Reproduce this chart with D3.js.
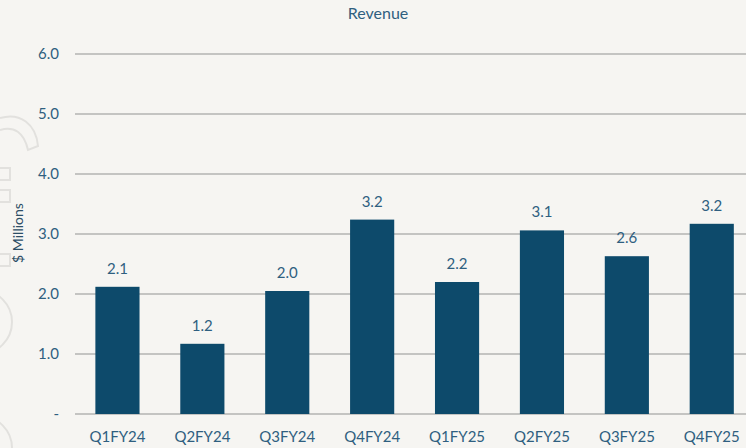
<!DOCTYPE html>
<html>
<head>
<meta charset="utf-8">
<script src="https://cdn.jsdelivr.net/npm/d3@7"></script>
<style>
  html,body{margin:0;padding:0;background:#f6f5f2;}
  svg{display:block;}
  text{font-family:Lato,"Open Sans",sans-serif;}
</style>
</head>
<body>
<div id="chart"></div>
<script>
var quarters = ["Q1FY24","Q2FY24","Q3FY24","Q4FY24","Q1FY25","Q2FY25","Q3FY25","Q4FY25"];
var revenue = [2.12, 1.17, 2.05, 3.24, 2.2, 3.06, 2.63, 3.17];
var yTicks = [0, 1, 2, 3, 4, 5, 6];

var width = 746, height = 448;
var plotLeft = 75, plotTop = 54, plotBottom = 414;

var svg = d3.select("#chart").append("svg")
    .attr("width", width)
    .attr("height", height);

// faint watermark on the left side
var wm = svg.append("g").attr("fill","none").attr("stroke","#e2e1de").attr("stroke-width",2);
wm.append("path").attr("d","M0,118 C20,112 36,124 38,146 L28,150 C24,132 14,126 0,130");
wm.append("rect").attr("x",-4).attr("y",168).attr("width",14).attr("height",12);
wm.append("rect").attr("x",-4).attr("y",190).attr("width",14).attr("height",12);
wm.append("rect").attr("x",-4).attr("y",254).attr("width",14).attr("height",12);
wm.append("circle").attr("cx",-20).attr("cy",322).attr("r",32);
wm.append("circle").attr("cx",-20).attr("cy",448).attr("r",32);

var x = d3.scaleBand()
    .domain(quarters)
    .range([plotLeft, plotLeft + 8 * 84.9])
    .paddingInner(0.48)
    .paddingOuter(0.24);

var y = d3.scaleLinear()
    .domain([0, 6])
    .range([plotBottom, plotTop]);

// gridlines
svg.append("g").selectAll("line")
    .data(yTicks)
    .enter().append("line")
    .attr("x1", plotLeft)
    .attr("x2", width)
    .attr("y1", function(d){ return y(d); })
    .attr("y2", function(d){ return y(d); })
    .attr("stroke", "#c4c4c2")
    .attr("stroke-width", 2);

// y axis labels
var yAxis = d3.axisLeft(y)
    .tickValues(yTicks)
    .tickSize(0)
    .tickPadding(16)
    .tickFormat(function(d){ return d === 0 ? "-" : d3.format(".1f")(d); });
var gy = svg.append("g").attr("transform","translate(" + plotLeft + ",0)").call(yAxis);
gy.select(".domain").remove();
gy.selectAll("text")
    .attr("fill","#2f5f80")
    .style("font-size","15px")
    .style("font-family","Lato,'Open Sans',sans-serif");

// bars
svg.append("g").selectAll("rect")
    .data(revenue)
    .enter().append("rect")
    .attr("x", function(d,i){ return x(quarters[i]); })
    .attr("width", x.bandwidth())
    .attr("y", function(d){ return y(d); })
    .attr("height", function(d){ return y(0) - y(d); })
    .attr("fill", "#0d4a6b");

// value labels
svg.append("g").selectAll("text")
    .data(revenue)
    .enter().append("text")
    .attr("x", function(d,i){ return x(quarters[i]) + x.bandwidth()/2; })
    .attr("y", function(d){ return y(d) - 13; })
    .attr("text-anchor","middle")
    .attr("fill","#2f5f80")
    .style("font-size","15px")
    .text(function(d){ return d3.format(".1f")(d); });

// x axis labels
var xAxis = d3.axisBottom(x).tickSize(0).tickPadding(17);
var gx = svg.append("g").attr("transform","translate(0," + plotBottom + ")").call(xAxis);
gx.select(".domain").remove();
gx.selectAll("text")
    .attr("fill","#2f5f80")
    .style("font-size","15px")
    .style("font-family","Lato,'Open Sans',sans-serif");

// title
svg.append("text")
    .attr("x", 378)
    .attr("y", 19)
    .attr("text-anchor","middle")
    .attr("fill","#2f5f7f")
    .style("font-size","16px")
    .text("Revenue");

// y axis title
svg.append("text")
    .attr("transform","translate(23,233) rotate(-90)")
    .attr("text-anchor","middle")
    .attr("fill","#2d4e66")
    .style("font-size","14px")
    .text("$ Millions");
</script>
</body>
</html>
